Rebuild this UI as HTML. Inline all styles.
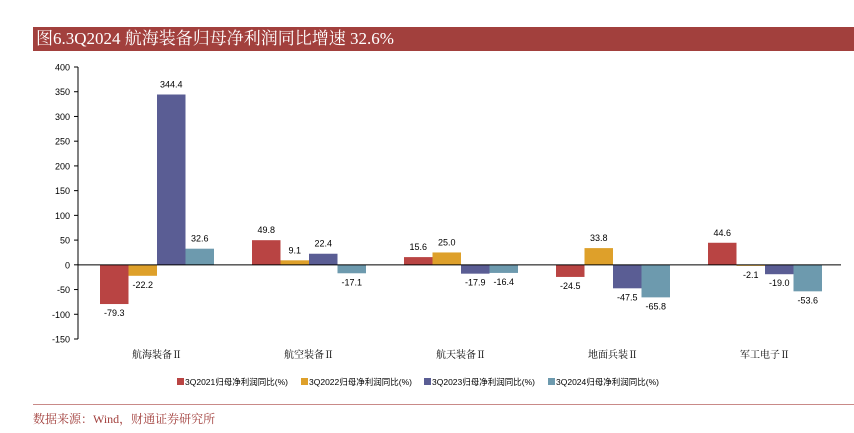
<!DOCTYPE html>
<html><head><meta charset="utf-8"><style>
body{margin:0;width:854px;height:433px;background:#fff;overflow:hidden;font-family:"Liberation Sans","Noto Sans CJK SC",sans-serif}
#title{position:absolute;left:33px;top:27px;width:821px;height:24px;background:#a2403d;color:#fff;font-family:"Liberation Serif","Noto Serif CJK SC",serif;font-size:17px;line-height:24px;padding-left:3px;box-sizing:border-box}
#foot{position:absolute;left:33px;top:410px;color:#a2403d;font-family:"Liberation Serif","Noto Serif CJK SC",serif;font-size:12px}
#line{position:absolute;left:33px;top:404px;width:821px;height:1px;background:#c98a88}
</style></head><body>
<div id="title">图6.3Q2024 航海装备归母净利润同比增速 32.6%</div>
<svg id="chart" width="854" height="433" style="position:absolute;left:0;top:0"></svg>
<div id="line"></div>
<div id="foot">数据来源：Wind，财通证券研究所</div>
<script>
const categories=["航海装备Ⅱ","航空装备Ⅱ","航天装备Ⅱ","地面兵装Ⅱ","军工电子Ⅱ"];
const s2021=[-79.3,49.8,15.6,-24.5,44.6];
const s2022=[-22.2,9.1,25.0,33.8,-2.1];
const s2023=[344.4,22.4,-17.9,-47.5,-19.0];
const s2024=[32.6,-17.1,-16.4,-65.8,-53.6];
const seriesNames=["3Q2021归母净利润同比(%)","3Q2022归母净利润同比(%)","3Q2023归母净利润同比(%)","3Q2024归母净利润同比(%)"];
const yTicks=[400,350,300,250,200,150,100,50,0,-50,-100,-150];
const colors=["#b94443","#dea02a","#5a5d94","#6d9aae"];
const series=[s2021,s2022,s2023,s2024];
const svg=document.getElementById('chart');const NS="http://www.w3.org/2000/svg";
const x0=81,pw=760,yTop=67,yBot=339,ymax=400,ymin=-150;
const y=v=>yTop+(ymax-v)/(ymax-ymin)*(yBot-yTop);
const step=pw/categories.length,bw=28.5;
function mk(t,a,txt){const e=document.createElementNS(NS,t);for(const k in a)e.setAttribute(k,a[k]);if(txt!==undefined)e.textContent=txt;svg.appendChild(e);return e;}
let ax=mk('line',{x1:x0-3,y1:yTop,x2:x0-3,y2:yBot,stroke:'#000','stroke-width':1});

yTicks.forEach(t=>{let l=mk('line',{x1:x0-7,x2:x0-3,y1:y(t),y2:y(t),stroke:'#000'});

let tx=mk('text',{x:x0-11,y:y(t)+3.5,'text-anchor':'end','font-size':9},t);
});
series.forEach((s,si)=>{s.forEach((v,ci)=>{const cx=x0+step*(ci+0.5);const bx=cx-2*bw+si*bw;
const top=Math.min(y(v),y(0)),h=Math.abs(y(v)-y(0));
let r=mk('rect',{x:bx,y:top,width:bw,height:h,fill:colors[si]});

const ly=v>=0?y(v)-7:y(v)+12;
let lt=mk('text',{x:bx+bw/2,y:ly,'text-anchor':'middle','font-size':9},v.toFixed(1));
});});
let zl=mk('line',{x1:x0-3,x2:x0+pw,y1:y(0),y2:y(0),stroke:'#000'});

categories.forEach((c,ci)=>{let t=mk('text',{x:x0+step*(ci+0.5),y:358,'text-anchor':'middle','font-size':10,'font-family':'"Liberation Serif","Noto Serif CJK SC",serif'},c);
});
const lx=[177,301,424,548];
seriesNames.forEach((n,i)=>{let r=mk('rect',{x:lx[i],y:378,width:7,height:7,fill:colors[i]});

let t=mk('text',{x:lx[i]+8,y:385,'font-size':8.5},n);
});
</script>
</body></html>
